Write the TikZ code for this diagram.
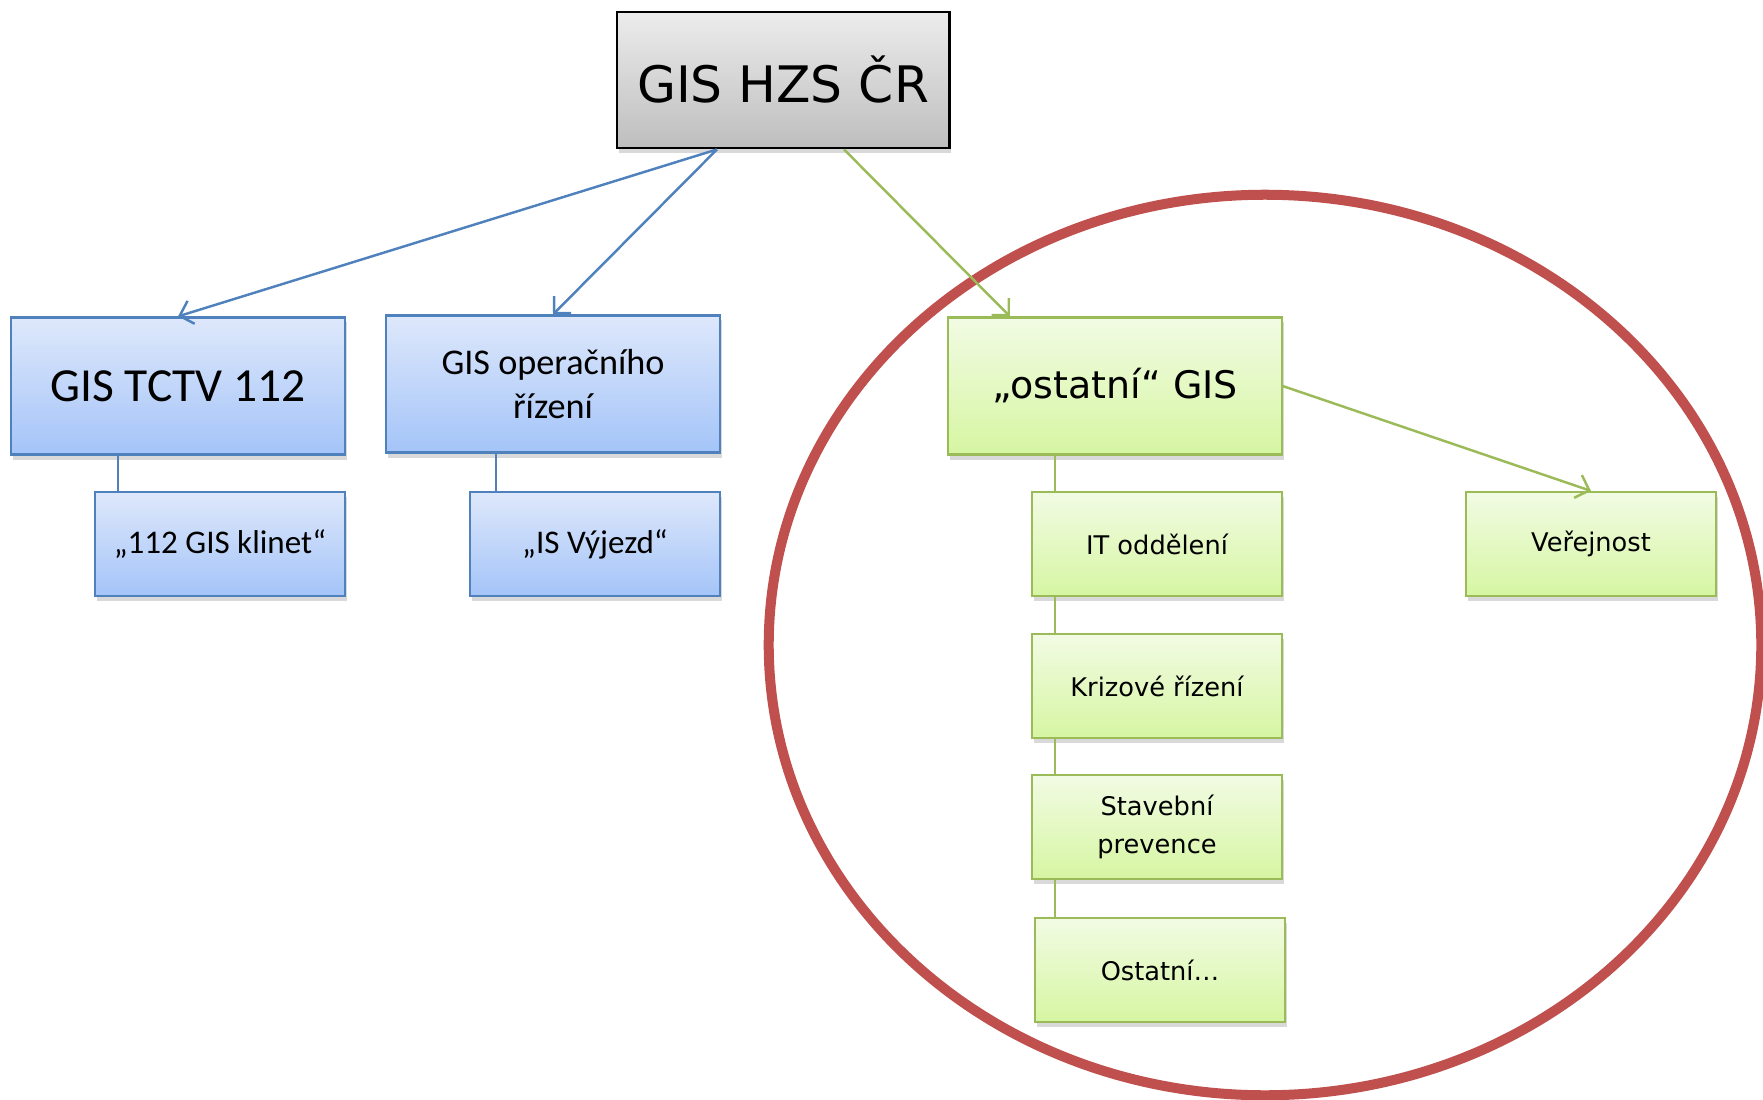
\documentclass[tikz,border=0pt]{standalone}
\usepackage{fontspec}
\setmainfont{Carlito}
\newfontfamily\widefont{DejaVu Sans}
\usetikzlibrary{arrows.meta,shadows}
\definecolor{boxblue}{RGB}{79,129,189}
\definecolor{bluetop}{RGB}{222,232,251}
\definecolor{bluebot}{RGB}{164,196,248}
\definecolor{boxgreen}{RGB}{155,187,89}
\definecolor{greentop}{RGB}{242,251,228}
\definecolor{greenbot}{RGB}{214,246,162}
\definecolor{graytop}{RGB}{236,236,236}
\definecolor{graybot}{RGB}{190,190,190}
\definecolor{ringred}{RGB}{192,80,77}
\begin{document}
\begin{tikzpicture}[x = 0.01cm, y = -0.01cm,
  box/.style = {draw, line width = 0.6pt, align = center, inner sep = 0pt,
    drop shadow = {shadow xshift = 0.02cm, shadow yshift = -0.05cm, opacity = 0.3}},
  bluebox/.style = {box, draw = boxblue, top color = bluetop, bottom color = bluebot},
  greenbox/.style = {box, draw = boxgreen, top color = greentop, bottom color = greenbot},
  bigbox/.style = {minimum width = 3.33cm, minimum height = 1.37cm},
  smallbox/.style = {minimum width = 2.5cm, minimum height = 1.04cm},
  narrowtxt/.style = {font = \fontsize{9.4pt}{12.5pt}\selectfont},
  widetxt/.style = {font = \widefont\fontsize{7.3pt}{10.7pt}\selectfont},
  >={Straight Barb[length = 0.12cm, width = 0.24cm]}]
\useasboundingbox (0,0) rectangle (1763,1100);
% red ring round the other GIS
\draw[ringred, line width = 0.1cm] (1265,645) ellipse [x radius = 4.96cm, y radius = 4.5cm];
% boxes
\node[box, draw = black, line width = 0.8pt, top color = graytop, bottom color = graybot,
  minimum width = 3.32cm, minimum height = 1.36cm,
  font = \widefont\fontsize{14.3pt}{17pt}\selectfont] (hzs) at (783,80) {GIS HZS ČR};
\node[bluebox, bigbox, font = \fontsize{13.5pt}{16pt}\selectfont] (tctv) at (178,386) {GIS TCTV 112};
\node[bluebox, bigbox, font = \fontsize{10.3pt}{12.5pt}\selectfont] (oper) at (553,384) {GIS operačního\\řízení};
\node[bluebox, smallbox, narrowtxt] (klinet) at (220,544) {„112 GIS klinet“};
\node[bluebox, smallbox, narrowtxt] (vyjezd) at (595,544) {„IS Výjezd“};
\node[greenbox, bigbox, font = \widefont\fontsize{10.8pt}{13pt}\selectfont] (ostatni) at (1115,386) {„ostatní“ GIS};
\node[greenbox, smallbox, widetxt] (it) at (1157,544) {IT oddělení};
\node[greenbox, smallbox, widetxt] (kriz) at (1157,686) {Krizové řízení};
\node[greenbox, smallbox, widetxt] (stav) at (1157,827) {Stavební\\prevence};
\node[greenbox, smallbox, widetxt] (ost) at (1160,970) {Ostatní…};
\node[greenbox, smallbox, widetxt] (ver) at (1591,544) {Veřejnost};
% arrows from the top
\draw[boxblue, line width = 0.7pt, ->] ([xshift = -0.66cm]hzs.south) -- (tctv.north);
\draw[boxblue, line width = 0.7pt, ->] ([xshift = -0.66cm]hzs.south) -- (oper.north);
\draw[boxgreen, line width = 0.7pt, ->] ([xshift = 0.61cm]hzs.south) -- ([xshift = -1.05cm]ostatni.north);
\draw[boxgreen, line width = 0.7pt, ->] (ostatni.east) -- (ver.north);
% tree lines
\draw[boxblue, line width = 0.6pt] ([xshift = -0.6cm]tctv.south) -- ([xshift = -0.6cm]tctv.south |- klinet.north);
\draw[boxblue, line width = 0.6pt] ([xshift = -0.57cm]oper.south) -- ([xshift = -0.57cm]oper.south |- vyjezd.north);
\foreach \a/\b in {ostatni/it, it/kriz, kriz/stav, stav/ost}
  \draw[boxgreen, line width = 0.6pt] ([xshift = -0.6cm]ostatni.south |- \a.south) -- ([xshift = -0.6cm]ostatni.south |- \b.north);
\end{tikzpicture}
\end{document}
